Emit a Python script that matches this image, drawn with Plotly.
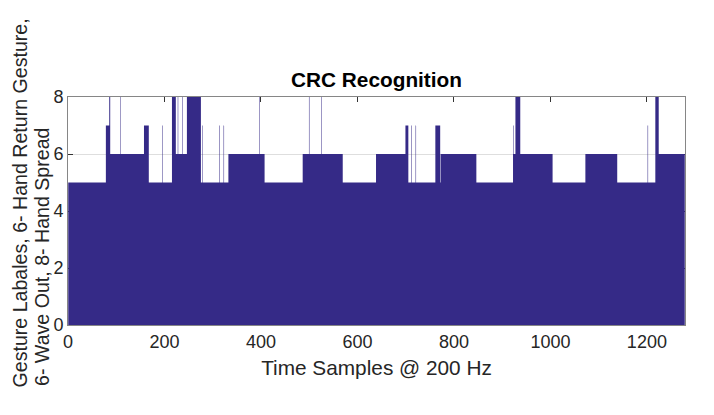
import plotly.graph_objects as go

# Recognised gesture label, run-length encoded: segment start sample -> label value
seg_start = [0, 78, 85, 87, 108, 109, 157, 167, 195, 196, 215, 223, 227, 228, 236, 237,
             246, 275, 278, 279, 313, 314, 322, 323, 332, 396, 397, 407, 486, 499, 500,
             524, 525, 569, 638, 699, 705, 711, 712, 720, 721, 761, 771, 772, 846, 922,
             923, 927, 937, 1004, 1072, 1138, 1201, 1202, 1217, 1224]
seg_value = [5, 7, 8, 6, 8, 6, 7, 5, 7, 5, 8, 6, 8, 6, 8, 6,
             8, 5, 7, 5, 7, 5, 7, 5, 6, 8, 6, 5, 6, 8, 6,
             8, 6, 5, 6, 7, 5, 7, 5, 7, 5, 7, 5, 6, 5, 7,
             6, 8, 6, 5, 6, 5, 7, 5, 8, 6]
n_samples = 1278

x_ticks = [0, 200, 400, 600, 800, 1000, 1200]
y_ticks = [0, 2, 4, 6, 8]

title_text = "CRC Recognition"
x_label = "Time Samples @ 200 Hz"
y_label_1 = "Gesture Labales, 6- Hand Return Gesture,"
y_label_2 = "6- Wave Out, 8- Hand Spread"

bar_color = "#352A87"
font_family = "Liberation Sans, Arial, Helvetica, sans-serif"
text_color = "#262626"

xs = [s + 0.5 for s in seg_start] + [n_samples + 0.5]
ys = seg_value + [seg_value[-1]]

fig = go.Figure()
fig.add_trace(go.Scatter(
    x=xs, y=ys, mode="lines", line=dict(shape="hv", width=0, color=bar_color),
    fill="tozeroy", fillcolor=bar_color, hoverinfo="skip", showlegend=False,
))

W, H = 714, 415
OFF = 8  # page body margin
# plot area in window pixels
PL, PR, PT, PB = 68, 685, 97, 325
L, T = PL - OFF, PT - OFF
R = (OFF + W) - PR
B = (OFF + H) - PB

fig.update_layout(
    width=W, height=H,
    margin=dict(l=L, r=R, t=T, b=B, autoexpand=False),
    paper_bgcolor="white", plot_bgcolor="white",
    font=dict(family=font_family, color=text_color, size=18),
    title=dict(text="<b>" + title_text + "</b>", x=(L + (W - L - R) / 2) / W, xanchor="center",
               y=1 - (80 - OFF) / H, yanchor="middle", yref="container",
               font=dict(size=20.8, color="#000000", family=font_family)),
    xaxis=dict(range=[0, 1279], tickvals=x_ticks, ticktext=[str(v) for v in x_ticks],
               ticks="inside", ticklen=5, tickcolor="#333333",
               showline=True, linecolor="#868686", linewidth=1, mirror="ticks",
               showgrid=False, zeroline=False, layer="below traces",
               tickfont=dict(size=18, color=text_color), automargin=False,
               title=dict(text=x_label, font=dict(size=20.8, color=text_color), standoff=9)),
    yaxis=dict(range=[0, 8], tickvals=y_ticks, ticktext=[str(v) for v in y_ticks],
               ticks="inside", ticklen=5, tickcolor="#333333",
               showline=True, linecolor="#868686", linewidth=1, mirror="ticks",
               showgrid=True, gridcolor="#dedede", gridwidth=1, zeroline=False,
               layer="below traces",
               tickfont=dict(size=18, color=text_color), automargin=False),
)

fig.add_annotation(text=y_label_1, textangle=-90, xref="paper", yref="paper",
                   x=0, y=0, xanchor="center", yanchor="bottom", xshift=19 - PL, yshift=-(389 - PB),
                   showarrow=False, borderpad=0,
                   font=dict(size=19.6, color=text_color, family=font_family))
fig.add_annotation(text=y_label_2, textangle=-90, xref="paper", yref="paper",
                   x=0, y=0, xanchor="center", yanchor="bottom", xshift=42 - PL, yshift=-(387 - PB),
                   showarrow=False, borderpad=0,
                   font=dict(size=19.6, color=text_color, family=font_family))

fig.write_html("out.html")
